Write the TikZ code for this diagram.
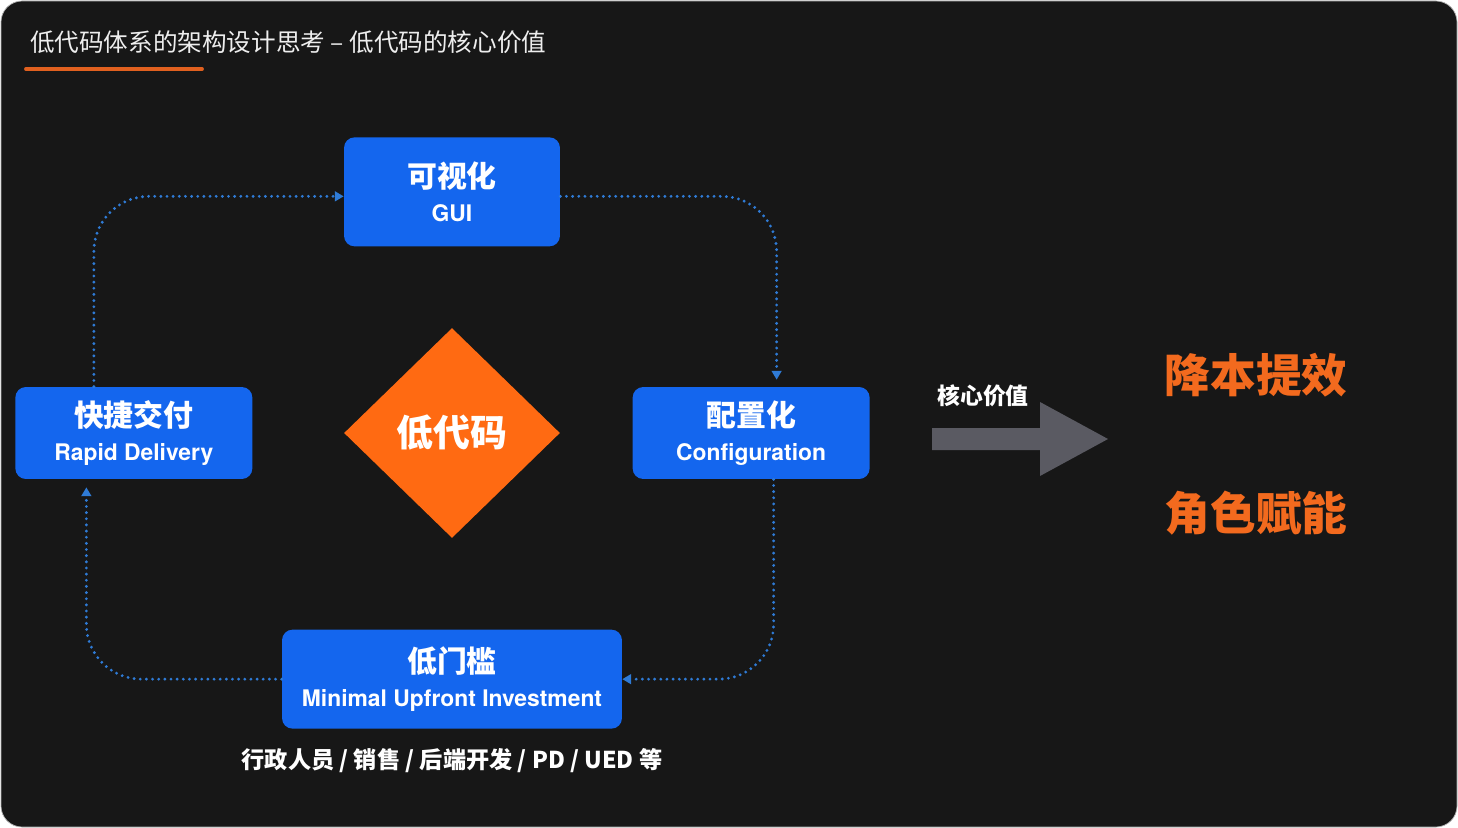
\documentclass[tikz,border=0pt]{standalone}
\usepackage{fontspec}
\setmainfont{TeX Gyre Heros}
\newfontfamily\cjk{Noto Sans CJK SC}
\usetikzlibrary{arrows.meta,positioning,shapes.geometric}

\definecolor{bgdark}{HTML}{171717}
\definecolor{boxblue}{HTML}{1466EE}
\definecolor{flowblue}{HTML}{2F7BD6}
\definecolor{lcorange}{HTML}{FF6A12}
\definecolor{lineorange}{HTML}{E0601F}
\definecolor{txtorange}{HTML}{F36A1E}
\definecolor{arrowgray}{HTML}{5A5A62}
\definecolor{softwhite}{HTML}{EEEEEE}

\begin{document}
\begin{tikzpicture}[
	x=0.02cm, y=-0.02cm,
	box/.style = {fill=boxblue, rounded corners=6pt, text=white, align=center,
		inner sep=0pt, font=\fontsize{13}{19}\selectfont\bfseries},
	core/.style = {diamond, fill=lcorange, minimum width=4.32cm, minimum height=4.2cm,
		inner sep=0pt, text=white, font=\cjk\fontsize{21}{25}\selectfont\bfseries},
	flow/.style = {draw=flowblue, line width=1.8pt, dash pattern=on 0pt off 3.5pt,
		line cap=round, rounded corners=1.1cm, -{Triangle[length=5pt, width=5.5pt]}},
	result/.style = {text=txtorange, font=\cjk\fontsize{26}{30}\selectfont\bfseries}
	]

	\useasboundingbox (0,0) rectangle (1458,828);
	\fill[white] (0,0) rectangle (1458,828);
	\fill[bgdark, draw=gray!60, rounded corners=12pt] (1,1) rectangle (1457,827);

	% title
	\node[anchor=west, text=softwhite, font=\cjk\fontsize{14}{17}\selectfont] (title) at (24,42)
		{低代码体系的架构设计思考 – 低代码的核心价值};
	\draw[lineorange, line width=2.2pt, line cap=round] (26,69) -- (202,69);

	% cycle
	\node[core] (core) at (452,433) {低代码};
	\node[box, minimum width=4.32cm, minimum height=2.18cm] (gui) [above=1.62cm of core]
		{{\cjk\fontsize{17}{19}\selectfont 可视化}\\GUI};
	\node[box, minimum width=4.74cm, minimum height=1.84cm] (conf) [right=1.44cm of core]
		{{\cjk\fontsize{17}{19}\selectfont 配置化}\\Configuration};
	\node[box, minimum width=4.74cm, minimum height=1.84cm] (rapid) [left=1.82cm of core]
		{{\cjk\fontsize{17}{19}\selectfont 快捷交付}\\Rapid Delivery};
	\node[box, minimum width=6.8cm, minimum height=1.98cm] (low) [below=1.82cm of core]
		{{\cjk\fontsize{17}{19}\selectfont 低门槛}\\Minimal Upfront Investment};
	\node[text=white, font=\cjk\fontsize{13.2}{15}\selectfont\bfseries] (roles) [below=0.26cm of low]
		{行政人员 / 销售 / 后端开发 / PD / UED 等};

	\draw[flow] ([xshift=-0.8cm]rapid.north) |- ([yshift=-0.09cm]gui.west);
	\draw[flow] ([yshift=-0.09cm]gui.east) -| ([xshift=0.51cm, yshift=0.14cm]conf.north);
	\draw[flow] ([xshift=0.45cm]conf.south) |- (low.east);
	\draw[flow] (low.west) -| ([xshift=-0.95cm, yshift=-0.16cm]rapid.south);

	% value
	\node[text=white, font=\cjk\fontsize{13}{16}\selectfont\bfseries] (value) at (983,396) {核心价值};
	\fill[arrowgray] (932,428) -- (1040,428) -- (1040,402) -- (1108,439)
		-- (1040,476) -- (1040,450) -- (932,450) -- cycle;
	\node[result] (cost) at (1256,375) {降本提效};
	\node[result] (roleup) at (1256,513) {角色赋能};
\end{tikzpicture}
\end{document}
